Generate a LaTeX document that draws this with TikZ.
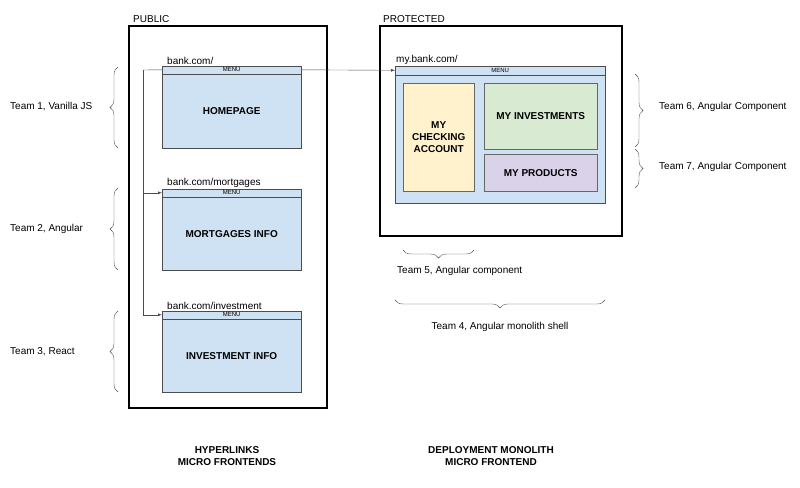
\documentclass[tikz,border=0pt]{standalone}
\usepackage{fontspec}
\setmainfont{Liberation Sans}
\usetikzlibrary{arrows,calc,positioning,decorations.pathreplacing}
\definecolor{pageblue}{HTML}{CFE2F3}
\definecolor{yellowbox}{HTML}{FFF2CC}
\definecolor{greenbox}{HTML}{D9EAD3}
\definecolor{purplebox}{HTML}{D9D2E9}
\begin{document}
\begin{tikzpicture}[x=1pt,y=-1pt,>=latex,font=\fontsize{10}{12}\selectfont]
	\tikzstyle{frame} = [draw, line width=1.6pt]
	\tikzstyle{page} = [draw=black!70, fill=pageblue, font=\fontsize{10}{12}\selectfont\bfseries]
	\tikzstyle{menu} = [draw=black!70, fill=pageblue, font=\fontsize{6}{6}\selectfont]
	\tikzstyle{part} = [draw=black!60, font=\fontsize{10}{12}\selectfont\bfseries, align=center]
	\tikzstyle{team} = [decorate, decoration={brace, amplitude=8pt}, black!70]
	\useasboundingbox (0,0) rectangle (800,487);
	
	% frames
	\draw [frame] (129,26) rectangle (327,408);
	\draw [frame] (380,26) rectangle (622,236);
	\node [anchor=south west, inner sep=0] (public) at (133,23) {PUBLIC};
	\node [anchor=south west, inner sep=0] (protected) at (383,23) {PROTECTED};
	
	% public pages
	\node [page, minimum width=139, minimum height=74, anchor=north west] (home) at (162,74) {HOMEPAGE};
	\node [menu, minimum width=139, minimum height=8, inner sep=0, anchor=south] (homemenu) at (home.north) {MENU};
	\node [anchor=south west, inner sep=1pt] at ($(homemenu.north west)+(4,0)$) {bank.com/};
	
	\node [page, minimum width=139, minimum height=73, anchor=north west] (mortg) at (162,197) {MORTGAGES INFO};
	\node [menu, minimum width=139, minimum height=8, inner sep=0, anchor=south] (mortgmenu) at (mortg.north) {MENU};
	\node [anchor=south west, inner sep=1pt] at ($(mortgmenu.north west)+(4,0)$) {bank.com/mortgages};
	
	\node [page, minimum width=139, minimum height=73, anchor=north west] (invest) at (162,319) {INVESTMENT INFO};
	\node [menu, minimum width=139, minimum height=8, inner sep=0, anchor=south] (investmenu) at (invest.north) {MENU};
	\node [anchor=south west, inner sep=1pt] at ($(investmenu.north west)+(4,0)$) {bank.com/investment};
	
	% protected page
	\node [page, minimum width=210, minimum height=128, anchor=north west] (shell) at (395,75) {};
	\node [menu, minimum width=210, minimum height=9, inner sep=0, anchor=south] (shellmenu) at (shell.north) {MENU};
	\node [anchor=south west, inner sep=1pt] at (shellmenu.north west) {my.bank.com/};
	\node [part, fill=yellowbox, minimum width=71, minimum height=108, anchor=north west] (checking) at (403,83) {MY\\CHECKING\\ACCOUNT};
	\node [part, fill=greenbox, minimum width=113, minimum height=66, anchor=north west] (myinvest) at (484,83) {MY INVESTMENTS};
	\node [part, fill=purplebox, minimum width=113, minimum height=37, anchor=north west] (products) at (484,154) {MY PRODUCTS};
	
	% links
	\coordinate (hub) at (143,70);
	\draw [black!70] (homemenu.west) -- (hub);
	\draw [->, black!70] (hub) |- (mortgmenu.west);
	\draw [->, black!70] (hub) |- (investmenu.west);
	\draw [->, black!70] (homemenu.east) -- (shellmenu.west);
	
	% teams
	\draw [team] (118,148) -- (118,67);
	\draw [team] (118,270) -- (118,188);
	\draw [team] (118,392) -- (118,311);
	\node [anchor=west, inner sep=0] (t1) at (10,107) {Team 1, Vanilla JS};
	\node [anchor=west, inner sep=0] (t2) at (10,229) {Team 2, Angular};
	\node [anchor=west, inner sep=0] (t3) at (10,352) {Team 3, React};
	\draw [team] (635,74) -- (635,147);
	\draw [team] (635,149) -- (635,188);
	\node [anchor=west, inner sep=0] (t6) at (659,107) {Team 6, Angular Component};
	\node [anchor=west, inner sep=0] (t7) at (659,167) {Team 7, Angular Component};
	\draw [team] (474,250) -- (403,250);
	\draw [team] (605,300) -- (395,300);
	\node [anchor=west, inner sep=0] (t5) at (397,271) {Team 5, Angular component};
	\node (t4) at (500,327) {Team 4, Angular monolith shell};
	
	% titles
	\node [font=\fontsize{10}{12}\selectfont\bfseries, align=center] (hyper) at (227,456) {HYPERLINKS\\MICRO FRONTENDS};
	\node [font=\fontsize{10}{12}\selectfont\bfseries, align=center] (monolith) at (491,456) {DEPLOYMENT MONOLITH\\MICRO FRONTEND};
\end{tikzpicture}
\end{document}
